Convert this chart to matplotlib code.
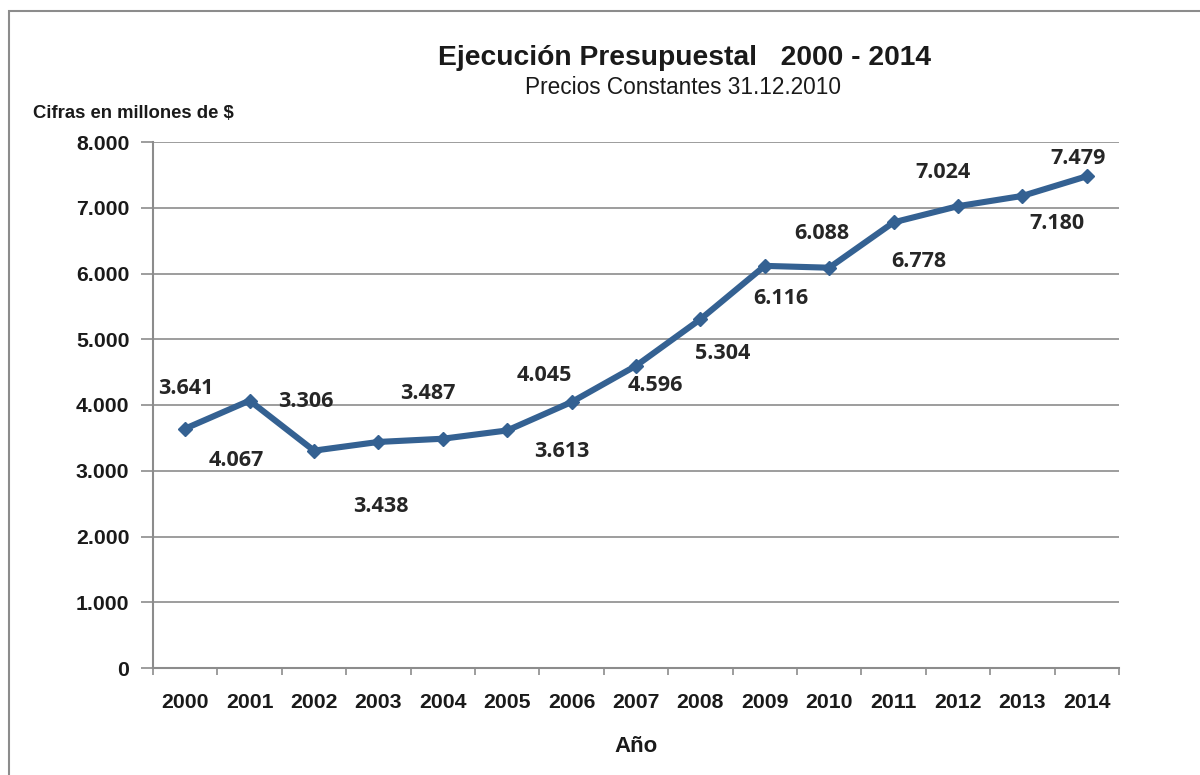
import matplotlib
matplotlib.use("Agg")
import matplotlib.pyplot as plt
from matplotlib.patches import Rectangle

years = ["2000", "2001", "2002", "2003", "2004", "2005", "2006", "2007",
         "2008", "2009", "2010", "2011", "2012", "2013", "2014"]
values = [3641, 4067, 3306, 3438, 3487, 3613, 4045, 4596,
          5304, 6116, 6088, 6778, 7024, 7180, 7479]
labels = ["3.641", "4.067", "3.306", "3.438", "3.487", "3.613", "4.045", "4.596",
          "5.304", "6.116", "6.088", "6.778", "7.024", "7.180", "7.479"]
ytick_vals = [0, 1000, 2000, 3000, 4000, 5000, 6000, 7000, 8000]
ytick_labels = ["0", "1.000", "2.000", "3.000", "4.000", "5.000", "6.000", "7.000", "8.000"]

# label offsets in pixels (as placed in the original)
offsets = [(1, 40), (-13, -60), (-8, 49), (2, -65), (-15, 45), (55, -21), (-27, 27),
           (19, -20), (22, -34), (16, -33), (-7, 34), (25, -39), (-15, 34), (35, -28), (-9, 18)]

W, H = 1200, 775
fig = plt.figure(figsize=(W / 100, H / 100), dpi=100)
fig.patch.set_facecolor("white")

# outer frame
fig.patches.append(Rectangle((9 / W, -0.05), 1.2, 1 - 11 / H + 0.05, transform=fig.transFigure,
                             fill=False, edgecolor="#8c8c8c", linewidth=1.5))

ax = fig.add_axes([153 / W, 1 - 668 / H, 966 / W, 526 / H])
x = list(range(len(years)))
line_color = "#346192"
ax.plot(x, values, color=line_color, linewidth=4.4, marker="D", markersize=7,
        markerfacecolor=line_color, markeredgecolor=line_color, zorder=3, solid_joinstyle="miter")

for xi, v, lab, (dx, dy) in zip(x, values, labels, offsets):
    ax.annotate(lab, (xi, v), xytext=(dx, dy), textcoords="offset pixels",
                ha="center", va="center", fontsize=15.5, fontweight="bold",
                family="Open Sans", color="#262626")

ax.set_xlim(-0.5, len(years) - 0.5)
ax.set_ylim(0, 8000)
ax.set_yticks(ytick_vals)
ax.set_yticklabels(ytick_labels)
ax.set_xticks(x)
ax.set_xticklabels(years)
ax.set_xticks([i - 0.5 for i in range(len(years) + 1)], minor=True)

ax.grid(axis="y", color="#8c8c8c", linewidth=1.2)
ax.set_axisbelow(True)
for s in ["top", "right"]:
    ax.spines[s].set_visible(False)
for s in ["left", "bottom"]:
    ax.spines[s].set_color("#8c8c8c")
    ax.spines[s].set_linewidth(1.5)

ax.tick_params(axis="y", which="major", length=9, color="#8c8c8c", width=1.2, pad=8)
ax.tick_params(axis="x", which="major", length=0, pad=18)
ax.tick_params(axis="x", which="minor", length=5, color="#8c8c8c", width=1.2)
for t in ax.get_yticklabels() + ax.get_xticklabels():
    t.set_fontfamily("Liberation Sans")
    t.set_fontweight("bold")
    t.set_fontsize(15.3)
    t.set_color("#1a1a1a")

fig.text(685 / W, 1 - 58 / H, "Ejecución Presupuestal   2000 - 2014", ha="center", va="center",
         fontsize=20.3, fontweight="bold", family="Liberation Sans", color="#1a1a1a")
fig.text(683 / W, 1 - 88 / H, "Precios Constantes 31.12.2010", ha="center", va="center",
         fontsize=16.3, family="Liberation Sans", color="#1a1a1a")
fig.text(33 / W, 1 - 113 / H, "Cifras en millones de $", ha="left", va="center",
         fontsize=13.3, fontweight="bold", family="Liberation Sans", color="#1a1a1a")
fig.text(636 / W, 1 - 746 / H, "Año", ha="center", va="center",
         fontsize=16, fontweight="bold", family="Liberation Sans", color="#1a1a1a")

fig.savefig("out.png", dpi=100)
